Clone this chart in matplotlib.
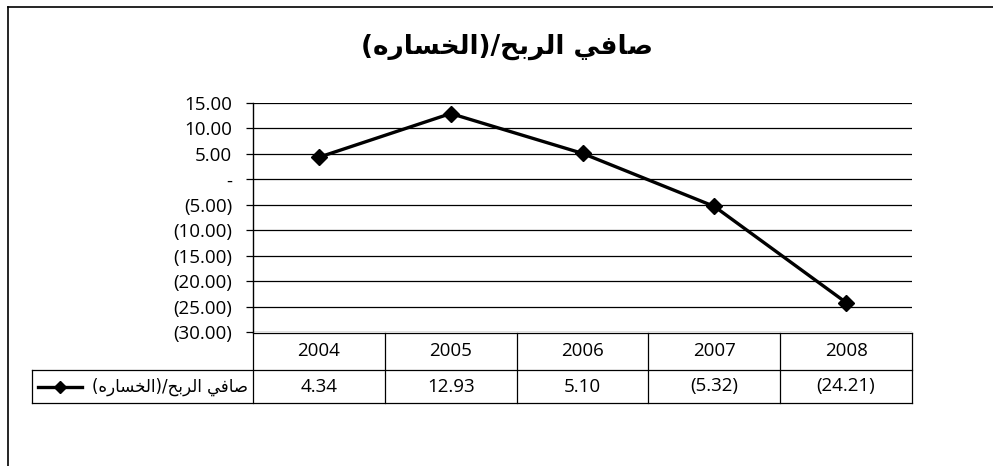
import matplotlib.pyplot as plt
from matplotlib.lines import Line2D

# datos del grafico
years = ['2004', '2005', '2006', '2007', '2008']
net = [4.34, 12.93, 5.10, -5.32, -24.21]
yticks = [15, 10, 5, 0, -5, -10, -15, -20, -25, -30]
title_ar = 'صافي الربح/(الخساره)'

# formas de presentacion arabes (matplotlib no une las letras)
AR = {
    'ا': ('\uFE8D', '\uFE8E', None, None),
    'ب': ('\uFE8F', '\uFE90', '\uFE91', '\uFE92'),
    'ح': ('\uFEA1', '\uFEA2', '\uFEA3', '\uFEA4'),
    'خ': ('\uFEA5', '\uFEA6', '\uFEA7', '\uFEA8'),
    'ر': ('\uFEAD', '\uFEAE', None, None),
    'س': ('\uFEB1', '\uFEB2', '\uFEB3', '\uFEB4'),
    'ص': ('\uFEB9', '\uFEBA', '\uFEBB', '\uFEBC'),
    'ف': ('\uFED1', '\uFED2', '\uFED3', '\uFED4'),
    'ل': ('\uFEDD', '\uFEDE', '\uFEDF', '\uFEE0'),
    'ه': ('\uFEE9', '\uFEEA', '\uFEEB', '\uFEEC'),
    'ي': ('\uFEF1', '\uFEF2', '\uFEF3', '\uFEF4'),
}


def shape(s):
    out = []
    for i, c in enumerate(s):
        if c not in AR:
            out.append(c)
            continue
        prev = s[i - 1] if i > 0 else ''
        nxt = s[i + 1] if i + 1 < len(s) else ''
        jp = prev in AR and AR[prev][2] is not None
        jn = nxt in AR and AR[c][2] is not None
        iso, fin, ini, med = AR[c]
        if jp and jn:
            out.append(med)
        elif jp:
            out.append(fin)
        elif jn:
            out.append(ini)
        else:
            out.append(iso)
    mirror = {'(': ')', ')': '('}
    return ''.join(mirror.get(c, c) for c in reversed(out))


def acc(v):
    if v == 0:
        return '-'
    return f'{v:.2f}' if v > 0 else f'({-v:.2f})'


W, H = 993, 466
fig = plt.figure(figsize=(W / 100, H / 100), dpi=100)

# marco exterior
fig.add_artist(Line2D([8 / W, 1], [1 - 7 / H, 1 - 7 / H], color='black', lw=1.2))
fig.add_artist(Line2D([8 / W, 8 / W], [0, 1 - 7 / H], color='black', lw=1.2))

L, R, T, B = 253, 912, 103, 332
ax = fig.add_axes([L / W, 1 - B / H, (R - L) / W, (B - T) / H])
x = list(range(len(years)))
ax.plot(x, net, color='black', lw=2.4, marker='D', ms=8, zorder=3)
ax.set_xlim(-0.5, len(years) - 0.5)
ax.set_ylim(-30, 15)
ax.set_yticks(yticks)
ax.set_yticklabels([acc(v) for v in yticks], fontsize=13.5, family='Open Sans')
ax.grid(axis='y', color='black', lw=0.9)
ax.set_xticks([])
ax.tick_params(axis='y', length=5, width=0.9, pad=10)
for s in ['top', 'right', 'bottom']:
    ax.spines[s].set_visible(False)
ax.spines['left'].set_linewidth(1.0)

fig.text(507 / W, 1 - 47 / H, shape(title_ar), ha='center', va='center',
         fontsize=19, fontweight='bold', family='DejaVu Sans')

# tabla de datos debajo del grafico
r1, r2, r3 = 333, 370, 403
cols = [L + (R - L) * i / len(years) for i in range(len(years) + 1)]
lk = dict(color='black', lw=0.9)


def fx(px):
    return px / W


def fy(py):
    return 1 - py / H


for yy in [r1, r2, r3]:
    x0 = L if yy == r1 else 32
    fig.add_artist(Line2D([fx(x0), fx(R)], [fy(yy), fy(yy)], **lk))
for cx in cols:
    fig.add_artist(Line2D([fx(cx), fx(cx)], [fy(r1), fy(r3)], **lk))
fig.add_artist(Line2D([fx(32), fx(32)], [fy(r2), fy(r3)], **lk))

for i, yr in enumerate(years):
    cx = (cols[i] + cols[i + 1]) / 2
    fig.text(fx(cx), fy((r1 + r2) / 2), yr, ha='center', va='center',
             fontsize=13.5, family='Open Sans')
    fig.text(fx(cx), fy((r2 + r3) / 2), acc(net[i]), ha='center', va='center',
             fontsize=13.5, family='Open Sans')

# clave de la leyenda en la tabla
ym = fy((r2 + r3) / 2)
fig.add_artist(Line2D([fx(38), fx(82)], [ym, ym], color='black', lw=2.4))
fig.add_artist(Line2D([fx(60)], [ym], color='black', marker='D', ms=6, lw=0))
fig.text(fx(248), ym, shape(title_ar), ha='right', va='center',
         fontsize=12, family='DejaVu Sans')

plt.savefig('out.png', dpi=100)
